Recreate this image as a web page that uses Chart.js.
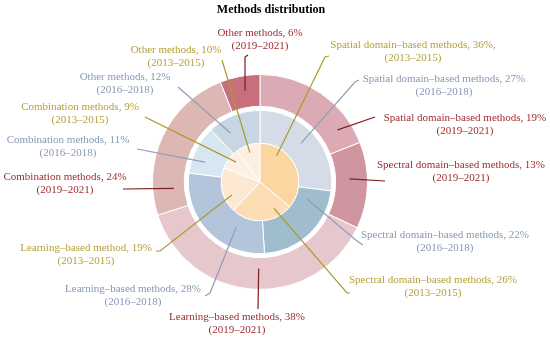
<!DOCTYPE html>
<html>
<head>
<meta charset="utf-8">
<script src="https://cdn.jsdelivr.net/npm/chart.js@4.4.1/dist/chart.umd.min.js"></script>
<style>
  html, body { margin: 0; padding: 0; background: #fff; }
  #wrap { width: 550px; height: 340px; position: relative; }
</style>
</head>
<body>
<div id="wrap"><canvas id="graphMethods"></canvas></div>
<script>
// données
const categories = ['Spatial domain–based methods', 'Spectral domain–based methods', 'Learning–based methods', 'Combination methods', 'Other methods'];
const names2013 = ['Spatial domain–based methods', 'Spectral domain–based methods', 'Learning–based method', 'Combination methods', 'Other methods'];
const periods = ['2019–2021', '2016–2018', '2013–2015'];
const values2019 = [19, 13, 38, 24, 6];
const values2016 = [27, 22, 28, 11, 12];
const values2013 = [36, 26, 19, 9, 10];

// couleurs
const colors2019 = ['#dcaab5', '#cf96a0', '#e6c7cc', '#ddb7b4', '#c7707c'];
const colors2016 = ['#d6dbe8', '#9fbdcd', '#b4c4da', '#d7e7f1', '#c8d6e3'];
const colors2013 = ['#fbd6a1', '#fcddb5', '#fde9d3', '#fdf0e5', '#fdefe0'];
const textColors = ['#9e2b2e', '#8797b5', '#b5a03a'];
const lineColors = ['#7d1d1d', '#8f9dba', '#a8992c'];

// placement des étiquettes : t = position dans l'arc, rf = position dans l'anneau
const labelLayout = [
    [ // 2019–2021 (anneau extérieur)
        { tx: 465, ty: 118, ex: 375, ey: 117, t: 0.82, rf: 0.56 },
        { tx: 461, ty: 165, ex: 385, ey: 181, t: 0.42, rf: 0.44 },
        { tx: 237, ty: 317, ex: 258, ey: 309, t: 0.48, rf: 0.34 },
        { tx: 65, ty: 177, ex: 123, ey: 189, t: 0.16, rf: 0.34 },
        { tx: 260, ty: 33, ex: 245, ey: 57, hx: 248, hy: 55, t: 0.57, rf: 0.53 }
    ],
    [ // 2016–2018
        { tx: 444, ty: 79, ex: 355, ey: 82, hx: 359, hy: 80, t: 0.48, rf: 0.53 },
        { tx: 445, ty: 235, ex: 357, ey: 241, hx: 363, hy: 245, t: 0.16, rf: 0.34 },
        { tx: 133, ty: 289, ex: 210, ey: 293, hx: 205, hy: 296, t: 0.31, rf: 0.38 },
        { tx: 68, ty: 140, ex: 137, ey: 149, t: 0.32, rf: 0.6 },
        { tx: 125, ty: 77, ex: 178, ey: 87, t: 0.28, rf: 0.56 }
    ],
    [ // 2013–2015 (centre)
        { tx: 413, ty: 45, ex: 325, ey: 57, hx: 329, hy: 56, t: 0.25, rf: 0.8 },
        { tx: 433, ty: 280, ex: 347, ey: 293, hx: 350, hy: 293, t: 0.24, rf: 0.77 },
        { tx: 86, ty: 248, ex: 160, ey: 251, hx: 156, hy: 251, t: 0.32, rf: 0.8 },
        { tx: 80, ty: 107, ex: 145, ey: 117, t: 0.56, rf: 0.8 },
        { tx: 176, ty: 50, ex: 222, ey: 60, t: 0.47, rf: 0.8 }
    ]
];

const ringDatasets = [0, 2, 3];
const ringValues = [values2019, values2016, values2013];
const ringNames = [categories, categories, names2013];

const labelsPlugin = {
    id: 'labelsMethodes',
    afterDatasetsDraw(chart) {
        const ctx = chart.ctx;
        ctx.save();
        // titre
        ctx.fillStyle = '#000';
        ctx.font = 'bold 12px "Liberation Serif"';
        ctx.textAlign = 'center';
        ctx.textBaseline = 'middle';
        ctx.fillText('Methods distribution', 271, 10);

        ringDatasets.forEach((dsIndex, ring) => {
            const meta = chart.getDatasetMeta(dsIndex);
            meta.data.forEach((arc, i) => {
                const lay = labelLayout[ring][i];
                const p = arc.getProps(['x', 'y', 'startAngle', 'endAngle', 'innerRadius', 'outerRadius'], true);
                const a = p.startAngle + lay.t * (p.endAngle - p.startAngle);
                const r = p.innerRadius + lay.rf * (p.outerRadius - p.innerRadius);
                const sx = p.x + Math.cos(a) * r;
                const sy = p.y + Math.sin(a) * r;

                ctx.strokeStyle = lineColors[ring];
                ctx.lineWidth = 1.2;
                ctx.beginPath();
                ctx.moveTo(sx, sy);
                ctx.lineTo(lay.ex, lay.ey);
                if (lay.hx !== undefined) ctx.lineTo(lay.hx, lay.hy);
                ctx.stroke();

                let line1 = ringNames[ring][i] + ', ' + ringValues[ring][i] + '%';
                if (ring === 2 && i === 0) line1 += ',';
                ctx.fillStyle = textColors[ring];
                ctx.font = '11px "Liberation Serif"';
                ctx.fillText(line1, lay.tx, lay.ty);
                ctx.fillText('(' + periods[ring] + ')', lay.tx, lay.ty + 13);
            });
        });
        ctx.restore();
    }
};

const ctxMethods = document.getElementById('graphMethods').getContext('2d');
const chartMethods = new Chart(ctxMethods, {
    type: 'doughnut',
    data: {
        labels: categories,
        datasets: [
            { label: periods[0], data: values2019, backgroundColor: colors2019, borderColor: '#fff', borderWidth: 1, weight: 32 },
            { label: '', data: [1], backgroundColor: 'rgba(0,0,0,0)', borderWidth: 0, weight: 4 },
            { label: periods[1], data: values2016, backgroundColor: colors2016, borderColor: '#fff', borderWidth: 1, weight: 33 },
            { label: periods[2], data: values2013, backgroundColor: colors2013, borderColor: '#fff', borderWidth: 1, weight: 39 }
        ]
    },
    options: {
        responsive: true,
        maintainAspectRatio: false,
        animation: false,
        cutout: 0,
        layout: { padding: { top: 74, bottom: 50, left: 0, right: 30 } },
        plugins: {
            legend: { display: false },
            tooltip: { enabled: false }
        }
    },
    plugins: [labelsPlugin]
});
</script>
</body>
</html>
